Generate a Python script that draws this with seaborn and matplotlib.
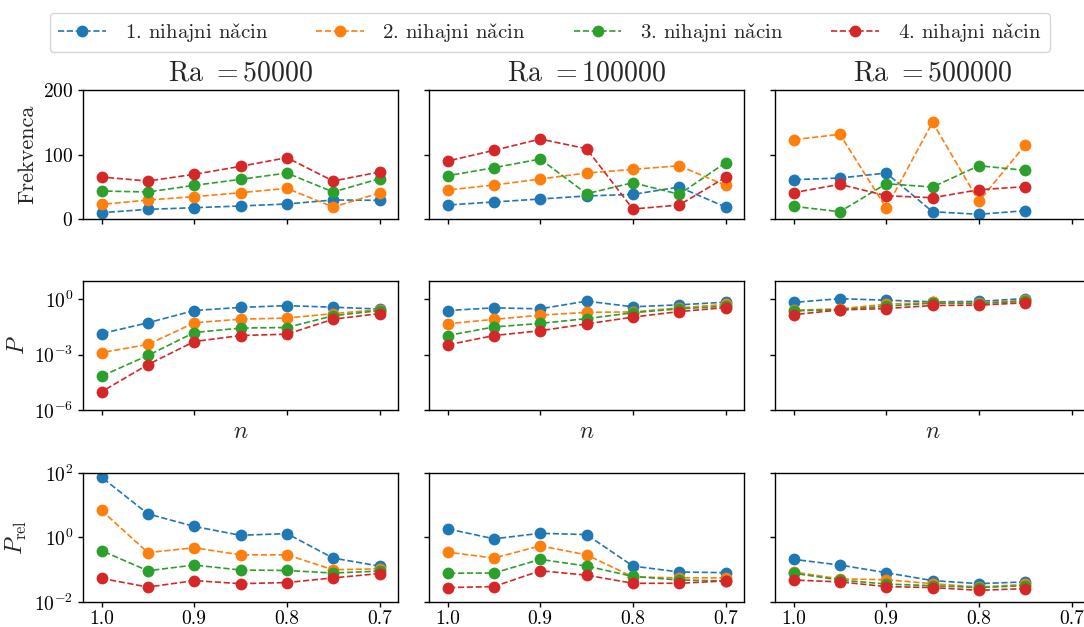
import numpy as np
import pandas as pd
import matplotlib
matplotlib.use("Agg")
import matplotlib.pyplot as plt
from matplotlib.ticker import FixedLocator, NullLocator, FormatStrFormatter, FuncFormatter
import seaborn as sns

# ---------------------------------------------------------------- data
n_values = [1.0, 0.95, 0.9, 0.85, 0.8, 0.75, 0.7]
ra_values = ["50000", "100000", "500000"]
mode_labels = ["1. nihajni način", "2. nihajni način", "3. nihajni način", "4. nihajni način"]

# Frekvenca (one row per mode)
freq_ra50k = [
    [9.8, 15.0, 17.5, 20.2, 23.3, 29.5, 29.0],
    [22.7, 29.5, 34.6, 40.8, 47.5, 18.6, 40.3],
    [43.4, 41.9, 52.2, 61.5, 71.3, 41.9, 62.5],
    [65.1, 58.9, 69.3, 81.7, 95.1, 58.9, 72.9],
]
freq_ra100k = [
    [21.7, 26.4, 31.0, 35.7, 38.2, 49.6, 18.6],
    [45.0, 52.7, 62.0, 71.3, 77.0, 82.6, 52.2],
    [67.1, 79.5, 93.0, 39.2, 56.3, 38.3, 87.3],
    [89.9, 106.5, 124.0, 109.0, 15.5, 21.7, 64.6],
]
freq_ra500k = [
    [61.0, 63.6, 71.3, 11.3, 7.3, 12.9],
    [123.0, 131.3, 17.0, 150.0, 27.4, 114.7],
    [19.7, 11.3, 54.7, 49.6, 82.6, 75.5],
    [40.8, 53.8, 36.1, 33.0, 45.4, 50.1],
]

# P
power_ra50k = [
    [1.4e-2, 5.4e-2, 0.25, 0.37, 0.46, 0.38, 0.30],
    [1.3e-3, 3.6e-3, 5.4e-2, 8.5e-2, 9.8e-2, 0.17, 0.28],
    [6.9e-5, 9.1e-4, 1.6e-2, 2.8e-2, 3.0e-2, 0.13, 0.25],
    [9.8e-6, 2.9e-4, 5.2e-3, 1.1e-2, 1.3e-2, 8.5e-2, 0.17],
]
power_ra100k = [
    [0.25, 0.35, 0.31, 0.81, 0.40, 0.51, 0.71],
    [4.8e-2, 8.3e-2, 0.14, 0.20, 0.21, 0.35, 0.54],
    [1.1e-2, 3.2e-2, 5.0e-2, 9.1e-2, 0.19, 0.31, 0.43],
    [3.4e-3, 1.1e-2, 2.0e-2, 4.7e-2, 0.11, 0.22, 0.36],
]
power_ra500k = [
    [0.69, 1.10, 0.91, 0.74, 0.78, 1.12],
    [0.26, 0.31, 0.55, 0.69, 0.66, 0.89],
    [0.24, 0.28, 0.43, 0.63, 0.60, 0.81],
    [0.15, 0.27, 0.32, 0.47, 0.49, 0.66],
]

# P_rel
prel_ra50k = [
    [74.0, 5.4, 2.2, 1.17, 1.32, 0.23, 0.13],
    [6.9, 0.34, 0.48, 0.29, 0.29, 0.10, 0.107],
    [0.39, 0.093, 0.14, 0.098, 0.095, 0.079, 0.091],
    [0.054, 0.029, 0.046, 0.037, 0.040, 0.056, 0.076],
]
prel_ra100k = [
    [1.86, 0.91, 1.35, 1.23, 0.13, 0.085, 0.081],
    [0.35, 0.23, 0.55, 0.29, 0.060, 0.056, 0.056],
    [0.078, 0.079, 0.21, 0.13, 0.062, 0.048, 0.045],
    [0.028, 0.030, 0.093, 0.068, 0.038, 0.038, 0.045],
]
prel_ra500k = [
    [0.21, 0.14, 0.081, 0.046, 0.037, 0.042],
    [0.085, 0.052, 0.049, 0.037, 0.029, 0.035],
    [0.078, 0.048, 0.036, 0.032, 0.028, 0.032],
    [0.048, 0.042, 0.030, 0.028, 0.023, 0.026],
]

quantities = ["freq", "power", "prel"]
table = {
    ("freq", "50000"): freq_ra50k, ("freq", "100000"): freq_ra100k, ("freq", "500000"): freq_ra500k,
    ("power", "50000"): power_ra50k, ("power", "100000"): power_ra100k, ("power", "500000"): power_ra500k,
    ("prel", "50000"): prel_ra50k, ("prel", "100000"): prel_ra100k, ("prel", "500000"): prel_ra500k,
}

rows = []
for (qty, ra), series in table.items():
    for label, vals in zip(mode_labels, series):
        for x, v in zip(n_values, vals):
            rows.append({"quantity": qty, "Ra": ra, "mode": label, "n": x, "value": v})
df = pd.DataFrame(rows)

# ---------------------------------------------------------------- style
sns.set_style("ticks")
plt.rcParams["font.family"] = ["cmr10", "DejaVu Serif"]
plt.rcParams["mathtext.fontset"] = "cm"
plt.rcParams["axes.formatter.use_mathtext"] = True
plt.rcParams["axes.unicode_minus"] = False
plt.rcParams["axes.edgecolor"] = "black"
plt.rcParams["xtick.color"] = "black"
plt.rcParams["ytick.color"] = "black"
plt.rcParams["axes.linewidth"] = 1.0
plt.rcParams["xtick.major.width"] = 1.0
plt.rcParams["ytick.major.width"] = 1.0
plt.rcParams["xtick.major.size"] = 3.5
plt.rcParams["ytick.major.size"] = 3.5
plt.rcParams["xtick.major.pad"] = 2.5

palette = sns.color_palette("tab10", 4)

fig = plt.figure(figsize=(10.84, 6.27), dpi=100)

col_left = [0.0766, 0.3958, 0.7150]
col_width = 0.2906
row_bottom = [0.6507, 0.3461, 0.0399]
row_height = 0.2057

axes = [[None] * 3 for _ in range(3)]
for r in range(3):
    for c in range(3):
        kw = {}
        if r > 0 or c > 0:
            kw["sharex"] = axes[0][0]
        if c > 0:
            kw["sharey"] = axes[r][0]
        axes[r][c] = fig.add_axes([col_left[c], row_bottom[r], col_width, row_height], **kw)

def log_fmt(val, pos):
    k = int(round(np.log10(val)))
    return r"$10^{%d}$" % k

for r, qty in enumerate(quantities):
    for c, ra in enumerate(ra_values):
        ax = axes[r][c]
        sub = df[(df["quantity"] == qty) & (df["Ra"] == ra)]
        sns.lineplot(data=sub, x="n", y="value", hue="mode", hue_order=mode_labels,
                     palette=palette, marker="o", markersize=8.5, markeredgewidth=0,
                     linestyle="--", linewidth=1.2, errorbar=None, legend=False, ax=ax)
        ax.set_xlabel("")
        ax.set_ylabel("")
        if r == 0:
            ax.set_title(r"Ra $=%s$" % ra, fontsize=20, pad=7)
        if r == 1:
            ax.set_xlabel(r"$n$", fontsize=17)
        if r < 2:
            ax.tick_params(labelbottom=False)
        if c > 0:
            ax.tick_params(labelleft=False)
        ax.tick_params(labelsize=14)

for c in range(3):
    axes[0][c].set_ylim(0, 200)
    axes[1][c].set_yscale("log")
    axes[2][c].set_yscale("log")

axes[0][0].set_xlim(1.02, 0.68)
axes[0][0].xaxis.set_major_locator(FixedLocator([1.0, 0.9, 0.8, 0.7]))
axes[0][0].xaxis.set_major_formatter(FormatStrFormatter("%.1f"))

axes[0][0].yaxis.set_major_locator(FixedLocator([0, 100, 200]))
axes[1][0].set_ylim(1e-6, 1e1)
axes[1][0].yaxis.set_major_locator(FixedLocator([1e-6, 1e-3, 1e0]))
axes[1][0].yaxis.set_minor_locator(NullLocator())
axes[1][0].yaxis.set_major_formatter(FuncFormatter(log_fmt))
axes[2][0].set_ylim(1e-2, 1e2)
axes[2][0].yaxis.set_major_locator(FixedLocator([1e-2, 1e0, 1e2]))
axes[2][0].yaxis.set_minor_locator(NullLocator())
axes[2][0].yaxis.set_major_formatter(FuncFormatter(log_fmt))

axes[0][0].set_ylabel("Frekvenca", fontsize=16)
axes[1][0].set_ylabel(r"$P$", fontsize=17)
axes[2][0].set_ylabel(r"$P_{\rm rel}$", fontsize=17)

# legend text: the caron is drawn as a math accent so the glyph stays in Computer Modern
legend_texts = [lbl.replace("č", r"$\check{\mathrm{c}}$") for lbl in mode_labels]
handles = axes[0][0].get_lines()[:4]
fig.legend(handles, legend_texts, loc="center", bbox_to_anchor=(0.507, 0.948), ncol=4,
           fontsize=15, frameon=True, fancybox=True, edgecolor="0.8",
           handlelength=2.3, handletextpad=0.9, columnspacing=2.3)

fig.savefig("out.png", dpi=100)
